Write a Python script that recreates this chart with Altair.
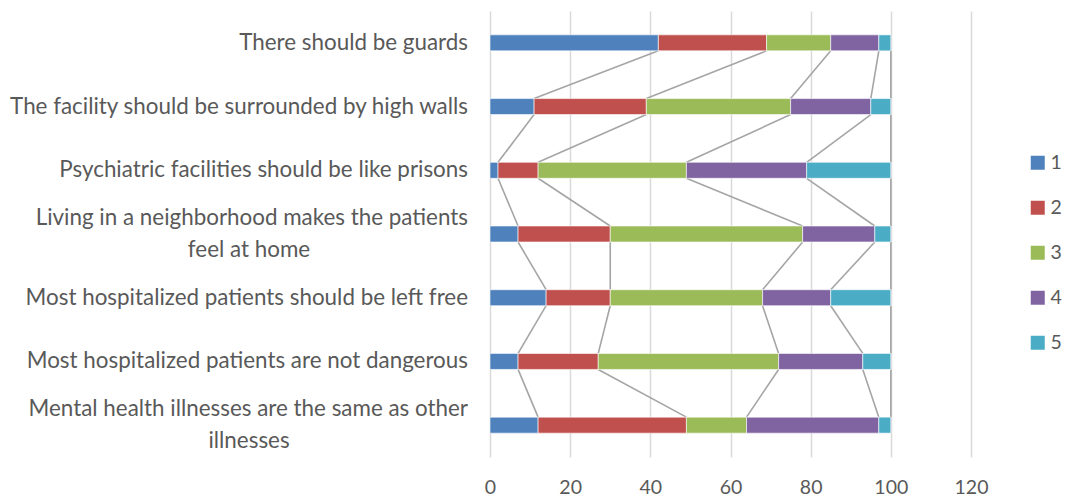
import altair as alt
import pandas as pd

# Statements, top to bottom
categories = [
    "There should be guards",
    "The facility should be surrounded by high walls",
    "Psychiatric facilities should be like prisons",
    "Living in a neighborhood makes the patients feel at home",
    "Most hospitalized patients should be left free",
    "Most hospitalized patients are not dangerous",
    "Mental health illnesses are the same as other illnesses",
]
label_line1 = [
    "There should be guards",
    "The facility should be surrounded by high walls",
    "Psychiatric facilities should be like prisons",
    "Living in a neighborhood makes the patients",
    "Most hospitalized patients should be left free",
    "Most hospitalized patients are not dangerous",
    "Mental health illnesses are the same as other",
]
label_line2 = ["", "", "", "feel at home", "", "", "illnesses"]

# Response levels and their shares (%) per statement
levels = ["1", "2", "3", "4", "5"]
level_1 = [42, 11, 2, 7, 14, 7, 12]
level_2 = [27, 28, 10, 23, 16, 20, 37]
level_3 = [16, 36, 37, 48, 38, 45, 15]
level_4 = [12, 20, 30, 18, 17, 21, 33]
level_5 = [3, 5, 21, 4, 15, 7, 3]
colors = ["#4F81BD", "#C0504D", "#9BBB59", "#8064A2", "#4BACC6"]
x_ticks = [0, 20, 40, 60, 80, 100, 120]

series = [level_1, level_2, level_3, level_4, level_5]
HALF = 0.1256  # half bar thickness, in row units
FONT = "Lato"
TEXT = "#595959"

# stacked segments
bar_rows = []
ends = {lv: [] for lv in levels}
for i, cat in enumerate(categories):
    start = 0
    for lv, vals in zip(levels, series):
        end = start + vals[i]
        bar_rows.append({"category": cat, "row": i, "level": lv, "share": vals[i],
                         "seg_start": start, "seg_end": end,
                         "top": i - HALF, "bottom": i + HALF})
        ends[lv].append(end)
        start = end
bars_df = pd.DataFrame(bar_rows)

# series lines joining the segment ends of neighbouring bars (two points per link)
line_rows = []
for lv in levels:
    for i in range(len(categories) - 1):
        link = f"{lv}-{i}"
        line_rows.append({"link": link, "ord": 0, "lx": ends[lv][i], "ly": i + HALF})
        line_rows.append({"link": link, "ord": 1, "lx": ends[lv][i + 1], "ly": i + 1 - HALF})
lines_df = pd.DataFrame(line_rows)

single_df = pd.DataFrame([{"row": i, "label": label_line1[i]}
                          for i in range(len(categories)) if not label_line2[i]])
first_df = pd.DataFrame([{"row": i, "label": label_line1[i]}
                         for i in range(len(categories)) if label_line2[i]])
second_df = pd.DataFrame([{"row": i, "label": label_line2[i]}
                          for i in range(len(categories)) if label_line2[i]])

x_scale = alt.Scale(domain=[0, 120], nice=False)
y_scale = alt.Scale(domain=[-0.5, len(categories) - 0.5], reverse=True, nice=False, zero=False)
x_axis = alt.Axis(values=x_ticks, title=None)

bars = alt.Chart(bars_df).mark_rect(stroke="white", strokeWidth=0.6).encode(
    x=alt.X("seg_start:Q", scale=x_scale, axis=x_axis),
    x2="seg_end:Q",
    y=alt.Y("top:Q", scale=y_scale, axis=None),
    y2="bottom:Q",
    color=alt.Color("level:N", scale=alt.Scale(domain=levels, range=colors),
                    legend=alt.Legend(title=None, orient="none", legendX=538, legendY=142)),
)

series_lines = alt.Chart(lines_df).mark_line(color="#a5a5a5", strokeWidth=1.6).encode(
    x=alt.X("lx:Q", scale=x_scale, axis=x_axis),
    y=alt.Y("ly:Q", scale=y_scale, axis=None),
    detail="link:N",
    order="ord:Q",
)

text_props = dict(font=FONT, fontSize=22.4, color=TEXT, baseline="middle")

single = alt.Chart(single_df).mark_text(align="right", **text_props).encode(
    x=alt.value(-22), y=alt.Y("row:Q", scale=y_scale, axis=None), text="label:N")

first = alt.Chart(first_df).mark_text(align="right", dy=-16, **text_props).encode(
    x=alt.value(-22), y=alt.Y("row:Q", scale=y_scale, axis=None), text="label:N")

second = alt.Chart(second_df).mark_text(align="center", dy=16, **text_props).encode(
    x=alt.value(-241), y=alt.Y("row:Q", scale=y_scale, axis=None), text="label:N")

chart = alt.layer(series_lines, bars, single, first, second).properties(
    width=481, height=446,
    autosize=alt.AutoSizeParams(type="none"),
    padding={"left": 490, "top": 11, "right": 97, "bottom": 44},
).configure(
    background="white"
).configure_view(
    stroke=None
).configure_axisX(
    grid=True, domain=False, ticks=False, gridColor="#d9d9d9", gridWidth=1.5,
    labelFont=FONT, labelFontSize=19.5, labelColor=TEXT, labelPadding=21,
    labelFlush=False,
).configure_legend(
    symbolType="square", symbolSize=196, symbolStrokeWidth=0, padding=0,
    labelFont=FONT, labelFontSize=19.5, labelColor=TEXT, labelOffset=3, rowPadding=24,
)

chart.save("out.html", embed_options={"renderer": "svg", "actions": False})
